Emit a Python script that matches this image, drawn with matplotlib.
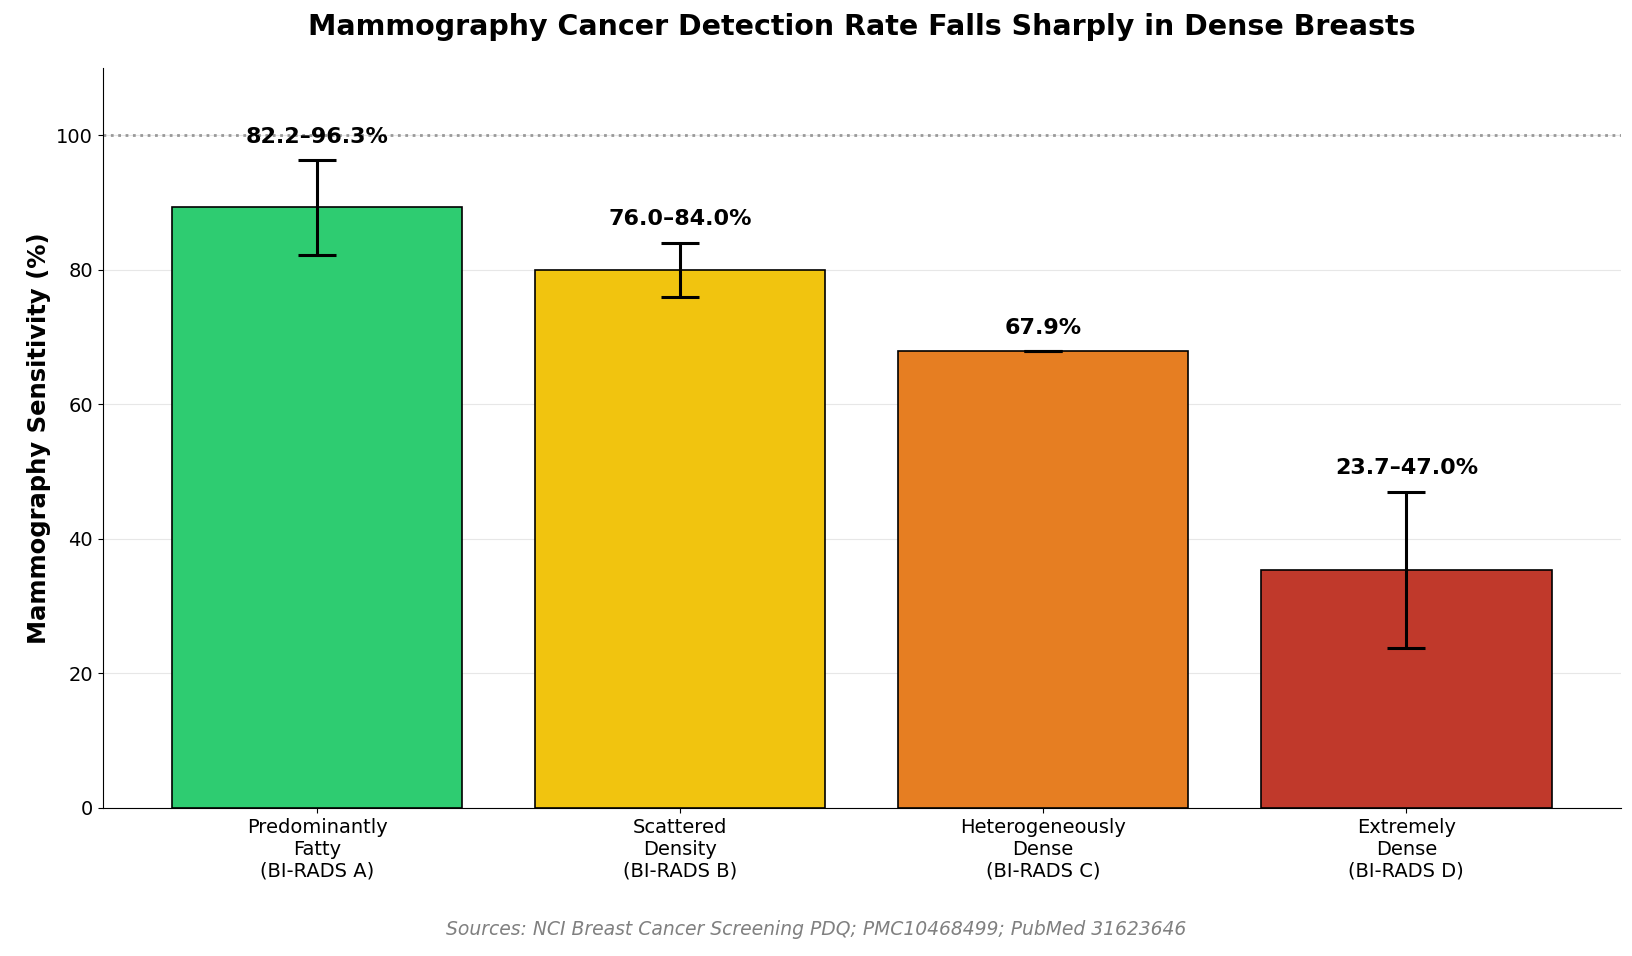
import matplotlib

matplotlib.use("Agg")

import matplotlib.pyplot as plt
import numpy as np

categories = [
    "Predominantly\nFatty\n(BI-RADS A)",
    "Scattered\nDensity\n(BI-RADS B)",
    "Heterogeneously\nDense\n(BI-RADS C)",
    "Extremely\nDense\n(BI-RADS D)",
]
low = [82.2, 76.0, 67.9, 23.7]
high = [96.3, 84.0, 67.9, 47.0]
labels = ["82.2–96.3%", "76.0–84.0%", "67.9%", "23.7–47.0%"]
colors = ["#2ecc71", "#f1c40f", "#e67e22", "#c0392b"]

low = np.array(low)
high = np.array(high)
mid = (low + high) / 2
x = np.arange(len(categories))

fig, ax = plt.subplots(figsize=(16.32, 9.56), dpi=100)
ax.bar(x, mid, width=0.8, color=colors, edgecolor="black", linewidth=1.2, zorder=3)
ax.errorbar(x, mid, yerr=[mid - low, high - mid], fmt="none", ecolor="black",
            elinewidth=2.2, capsize=14, capthick=2.2, zorder=4)
for xi, hi, lab in zip(x, high, labels):
    ax.text(xi, hi + 2, lab, ha="center", va="bottom", fontsize=16, fontweight="bold")

ax.axhline(100, color="#999999", ls=":", lw=2, zorder=2)
ax.set_ylim(0, 110)
ax.set_xlim(-0.59, 3.59)
ax.set_xticks(x)
ax.set_xticklabels(categories, fontsize=14)
ax.tick_params(axis="y", labelsize=14)
ax.set_ylabel("Mammography Sensitivity (%)", fontsize=17.5, fontweight="bold")
ax.set_title("Mammography Cancer Detection Rate Falls Sharply in Dense Breasts",
             fontsize=20.5, fontweight="bold", pad=24)
ax.grid(axis="y", alpha=0.3, zorder=0)
ax.spines["top"].set_visible(False)
ax.spines["right"].set_visible(False)

fig.text(0.5, 0.022, "Sources: NCI Breast Cancer Screening PDQ; PMC10468499; PubMed 31623646",
         ha="center", fontsize=13.5, style="italic", color="gray")
fig.subplots_adjust(left=0.063, right=0.993, top=0.929, bottom=0.155)
fig.savefig("out.png", dpi=100)
plt.close(fig)
